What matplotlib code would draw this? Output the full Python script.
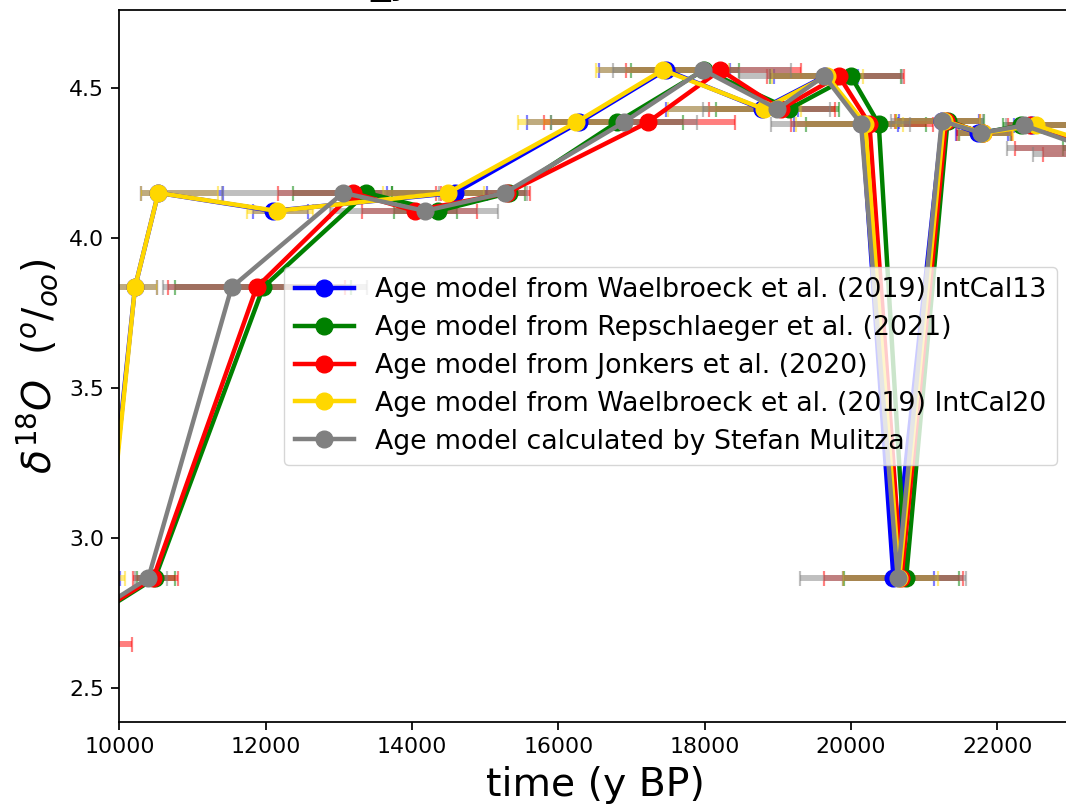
import matplotlib
matplotlib.use("Agg")
import matplotlib.pyplot as plt

# d18O values shared by all age models (per sample)
d18o = [2.645, 2.865, 3.835, 4.15, 4.09, 4.15, 4.385, 4.56, 4.43, 4.54, 4.38, 2.865, 4.39, 4.35, 4.375, 4.30, 4.28]

labels = [
    "Age model from Waelbroeck et al. (2019) IntCal13",
    "Age model from Repschlaeger et al. (2021)",
    "Age model from Jonkers et al. (2020)",
    "Age model from Waelbroeck et al. (2019) IntCal20",
    "Age model calculated by Stefan Mulitza",
]
colors = ["blue", "green", "red", "gold", "gray"]

# Waelbroeck IntCal13
age_b = [9380, 9790, 10212, 10530, 12097, 14583, 16280, 17465, 18780, 19650, 20150, 20580, 21250, 21740, 22480, 23480, 24450]
lo_b = [300, 250, 300, 240, 272, 933, 714, 910, 1314, 700, 925, 693, 600, 300, 250, 500, 500]
hi_b = [300, 220, 300, 881, 480, 441, 700, 880, 494, 441, 494, 550, 500, 400, 800, 500, 500]
# Repschlaeger
age_gr = [9050, 10485, 11964, 13376, 14355, 15330, 16799, 17990, 19156, 19998, 20379, 20753, 21320, 21790, 22330, 23400, 24400]
lo_gr = [900, 250, 1200, 1000, 600, 1605, 900, 1000, 1000, 1100, 1000, 850, 700, 320, 250, 500, 500]
hi_gr = [900, 273, 1200, 349, 255, 213, 900, 475, 678, 690, 646, 719, 500, 400, 800, 500, 500]
# Jonkers
age_r = [9007, 10462, 11874, 13194, 14036, 15300, 17220, 18214, 19036, 19834, 20252, 20690, 21300, 21800, 22440, 23450, 24420]
lo_r = [1160, 278, 1211, 1026, 725, 900, 1415, 1284, 977, 981, 1072, 1053, 700, 350, 300, 1208, 1795]
hi_r = [1160, 337, 1209, 1126, 847, 312, 1188, 1106, 742, 896, 874, 837, 464, 400, 800, 1200, 1800]
# Waelbroeck IntCal20
age_y = [9400, 9806, 10212, 10530, 12147, 14491, 16239, 17428, 18807, 19670, 20193, 20660, 21270, 21810, 22525, 23510, 24500]
lo_y = [300, 270, 300, 236, 408, 889, 796, 910, 1307, 750, 950, 773, 650, 330, 250, 500, 500]
hi_y = [300, 270, 300, 817, 498, 492, 760, 900, 513, 490, 520, 534, 500, 400, 800, 500, 500]
# Mulitza
age_g = [8970, 10394, 11532, 13057, 14173, 15266, 16892, 17975, 18994, 19633, 20137, 20638, 21240, 21777, 22369, 23240, 24300]
lo_g = [830, 182, 940, 1656, 1296, 900, 1000, 1223, 1014, 1168, 1237, 1342, 700, 300, 250, 1107, 1812]
hi_g = [830, 255, 1850, 1475, 1001, 300, 1000, 1200, 724, 1070, 671, 935, 560, 400, 800, 1100, 1800]

ages = [age_b, age_gr, age_r, age_y, age_g]
los = [lo_b, lo_gr, lo_r, lo_y, lo_g]
his = [hi_b, hi_gr, hi_r, hi_y, hi_g]

xticks = [10000, 12000, 14000, 16000, 18000, 20000, 22000]
yticks = [2.5, 3.0, 3.5, 4.0, 4.5]

fig = plt.figure(figsize=(10.66, 8.08), dpi=100)
ax = fig.add_axes([0.1121, 0.1064, 0.8921, 0.8812])

for a, lo, hi, c in zip(ages, los, his, colors):
    ax.errorbar(a, d18o, xerr=[lo, hi], fmt='none', ecolor=c, elinewidth=4.3,
                capsize=5.4, capthick=1.6, alpha=0.5, zorder=1)
for a, c, lab in zip(ages, colors, labels):
    ax.plot(a, d18o, '-o', color=c, lw=3.2, ms=12, label=lab, zorder=2)

ax.set_xlim(10000, 23000)
ax.set_ylim(2.385, 4.76)
ax.set_xticks(xticks)
ax.set_xticklabels([str(t) for t in xticks])
ax.set_yticks(yticks)
ax.set_yticklabels([f"{t:.1f}" for t in yticks])
ax.tick_params(labelsize=15.8, length=5.5, width=1.26, pad=5.5)
for s in ax.spines.values():
    s.set_linewidth(1.26)

ax.set_xlabel("time (y BP)", fontsize=28.4, labelpad=6.3)
ax.set_ylabel(r"$\delta^{18}O\ \ (^{o}/_{oo})$", fontsize=28.4, labelpad=6.3)

ax.legend(loc='center right', fontsize=19.25, labelspacing=0.44, handlelength=2.2)

fig.text(370 / 1066, (808 + 6.6) / 808, "_y", fontsize=28.4, ha='left', va='baseline')

fig.savefig("out.png", dpi=100)
